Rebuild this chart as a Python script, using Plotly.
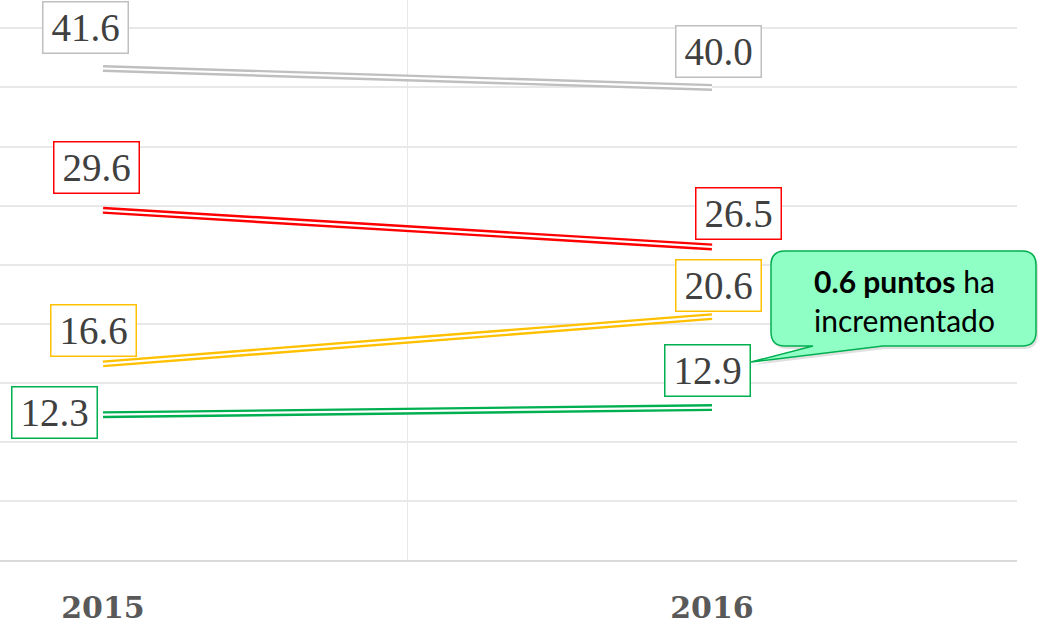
import plotly.graph_objects as go

years = ["2015", "2016"]
series_names = ["Gris", "Rojo", "Amarillo", "Verde"]
series_values = {
    "Gris": [41.6, 40.0],
    "Rojo": [29.6, 26.5],
    "Amarillo": [16.6, 20.6],
    "Verde": [12.3, 12.9],
}
series_colors = {
    "Gris": "#bfbfbf",
    "Rojo": "#ff0000",
    "Amarillo": "#ffc000",
    "Verde": "#00b050",
}
# label offsets (pixels) relative to each point: (xshift, yshift)
label_offsets = {
    "Gris": [(-18, 41), (6, 36)],
    "Rojo": [(-7, 43), (26, 33)],
    "Amarillo": [(-10, 33), (6, 31)],
    "Verde": [(-49, 2), (-5, 37)],
}
callout_bold = "0.6 puntos"
callout_rest = "ha<br>incrementado"

W, H = 1038, 625
ML, MR, MT, MB = 0, 21, 0, 65
PW, PH = W - ML - MR, H - MT - MB

xpos = list(range(len(years)))

fig = go.Figure()
for name in series_names:
    vals = series_values[name]
    fig.add_trace(go.Scatter(x=xpos, y=vals, mode="lines",
                             line=dict(color=series_colors[name], width=7),
                             showlegend=False, hoverinfo="skip"))
    fig.add_trace(go.Scatter(x=xpos, y=vals, mode="lines",
                             line=dict(color="white", width=2.2),
                             showlegend=False, hoverinfo="skip"))

annotations = []
for name in series_names:
    vals = series_values[name]
    for i, v in enumerate(vals):
        dx, dy = label_offsets[name][i]
        annotations.append(dict(
            x=xpos[i], y=v, xref="x", yref="y", text=f"{v:.1f}",
            showarrow=False, xshift=dx, yshift=dy,
            font=dict(family="Liberation Serif", size=39, color="#404040"),
            bgcolor="white", bordercolor=series_colors[name], borderwidth=1.5,
            borderpad=2, width=80, height=46,
        ))


def px2paper(x, y):
    return ((x - ML) / PW, 1 - (y - MT) / PH)


def callout_path(l, t, r, b, rad, tail_a, tail_tip, tail_b, dx=0, dy=0):
    def P(x, y):
        X, Y = px2paper(x + dx, y + dy)
        return f"{X:.5f},{Y:.5f}"
    d = f"M {P(l + rad, t)} L {P(r - rad, t)} Q {P(r, t)} {P(r, t + rad)} "
    d += f"L {P(r, b - rad)} Q {P(r, b)} {P(r - rad, b)} "
    d += f"L {P(tail_b, b)} L {P(*tail_tip)} L {P(tail_a, b)} "
    d += f"L {P(l + rad, b)} Q {P(l, b)} {P(l, b - rad)} "
    d += f"L {P(l, t + rad)} Q {P(l, t)} {P(l + rad, t)} Z"
    return d


shapes = [
    dict(type="path", xref="paper", yref="paper",
         path=callout_path(771, 251, 1036, 346, 14, 813, (751, 362), 883, dx=2, dy=3),
         fillcolor="rgba(0,0,0,0.12)", line=dict(width=0), layer="above"),
    dict(type="path", xref="paper", yref="paper",
         path=callout_path(771, 251, 1036, 346, 14, 813, (751, 362), 883),
         fillcolor="#8fffc6", line=dict(color="#00b050", width=1.5), layer="above"),
]
cx, cy = px2paper(904, 300)
annotations.append(dict(
    x=cx, y=cy, xref="paper", yref="paper", xanchor="center", yanchor="middle",
    text=f"<b>{callout_bold}</b> {callout_rest}", showarrow=False,
    font=dict(family="Lato", size=30, color="black"), align="center",
))

fig.update_layout(
    width=W, height=H, autosize=False,
    margin=dict(l=ML, r=MR, t=MT, b=MB, autoexpand=False),
    paper_bgcolor="white", plot_bgcolor="white",
    annotations=annotations, shapes=shapes,
    xaxis=dict(range=[-103 / 609, 914 / 609], tickvals=xpos, ticktext=years,
               showgrid=False, zeroline=False, ticks="", automargin=False,
               tickfont=dict(family="DejaVu Serif", size=30, color="#595959", weight="bold"),
               ticklabelstandoff=20,
               showline=True, linecolor="#d9d9d9", linewidth=1.5,
               minor=dict(tickvals=[0.5, 1.5], showgrid=True, gridcolor="#e8e8e8", gridwidth=1)),
    yaxis=dict(range=[0, 47.4], dtick=5, showgrid=True, gridcolor="#e8e8e8", automargin=False,
               gridwidth=1.5, zeroline=False, showticklabels=False, ticks=""),
)

fig.write_html("out.html", config={"displayModeBar": False},
               post_script="document.body.style.margin='0';document.body.style.overflow='hidden';")
